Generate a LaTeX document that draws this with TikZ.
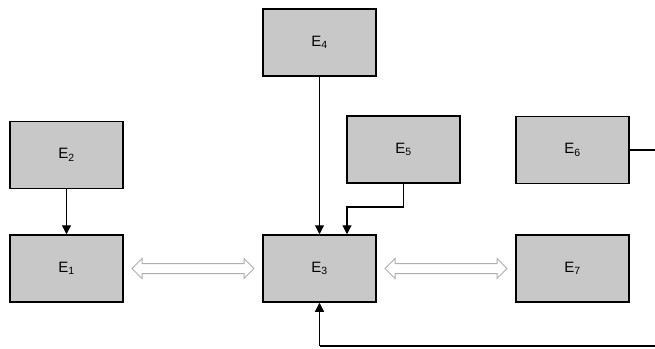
\documentclass[tikz,border=0pt]{standalone}
\usepackage{fontspec}
\setmainfont{Liberation Sans}
\usetikzlibrary{arrows.meta,shapes.arrows,calc}
\definecolor{boxfill}{RGB}{200,200,200}
\definecolor{hollow}{RGB}{175,175,175}
\tikzset{
  ebox/.style={draw=black, line width=1.5pt, fill=boxfill, minimum width=113pt, minimum height=67pt, inner sep=0pt, font=\fontsize{15}{17}\selectfont},
  arr/.style={draw=black, line width=1.2pt, -{Triangle[length=9pt,width=9pt]}},
  link/.style={draw=black, line width=1.2pt},
  dbl/.style={shape=double arrow, draw=hollow, line width=1pt, fill=white, inner sep=4.5pt, double arrow head extend=5pt, minimum height=122pt}
}
\begin{document}
\begin{tikzpicture}[x=1pt,y=-1pt]
\useasboundingbox (0,0) rectangle (655,348);
\node[ebox] (e4) at (319.5,42.5) {E\textsubscript{4}};
\node[ebox] (e2) at (66.5,155) {E\textsubscript{2}};
\node[ebox] (e1) at (66.5,268.5) {E\textsubscript{1}};
\node[ebox] (e3) at (319.5,268.5) {E\textsubscript{3}};
\node[ebox] (e5) at (403.5,149.5) {E\textsubscript{5}};
\node[ebox] (e6) at (572.5,150) {E\textsubscript{6}};
\node[ebox] (e7) at (572.5,268.5) {E\textsubscript{7}};
\node[dbl] (a13) at ($(e1.east)!0.5!(e3.west)$) {};
\node[dbl] (a37) at ($(e3.east)!0.5!(e7.west)$) {};
\draw[arr] (e2) -- (e1);
\draw[arr] (e4) -- (e3);
\coordinate (m5) at (347,207);
\draw[arr] (e5.south) |- (m5) -- (e3.north -| m5);
\coordinate (c1) at (658,150);
\coordinate (c2) at (658,346);
\draw[link] (e6.east) -- (c1) -- (c2) -- (c2 -| e3.south);
\draw[arr] (c2 -| e3.south) -- (e3.south);
\end{tikzpicture}
\end{document}
